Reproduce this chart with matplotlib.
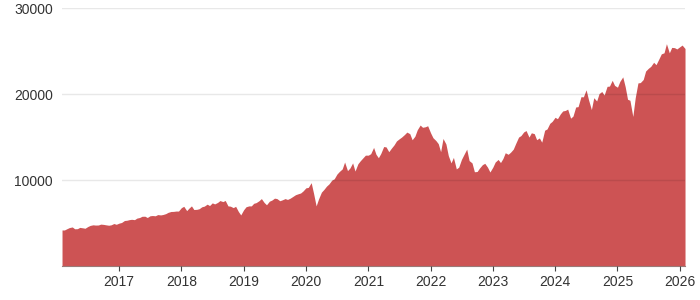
import numpy as np
import pandas as pd
import matplotlib
matplotlib.use("Agg")
import matplotlib.pyplot as plt
import matplotlib.dates as mdates

# semi-monthly readings (1st and 15th of each month), Feb 2016 .. Feb 2026
vals_2016 = [4200, 4200, 4350, 4480, 4550, 4340, 4350, 4500, 4450, 4400, 4600,
             4730, 4800, 4770, 4780, 4880, 4850, 4800, 4750, 4800, 4950, 4860]
vals_2017 = [5000, 5070, 5300, 5330, 5400, 5440, 5400, 5580, 5650, 5790, 5800, 5650,
             5850, 5880, 5850, 5990, 5950, 6000, 6100, 6250, 6350, 6360, 6400, 6400]
vals_2018 = [6800, 6950, 6450, 6750, 7000, 6580, 6600, 6670, 6900, 6970, 7200, 7040,
             7350, 7230, 7400, 7620, 7500, 7630, 7000, 6970, 6800, 6950, 6350, 5950]
vals_2019 = [6550, 6900, 7000, 7000, 7300, 7380, 7600, 7850, 7400, 7130, 7550, 7670,
             7900, 7850, 7600, 7700, 7850, 7750, 7900, 8080, 8300, 8400, 8500, 8730]
vals_2020 = [9100, 9150, 9700, 8460, 7000, 7800, 8600, 8900, 9300, 9550, 10000, 10150,
             10700, 11000, 11300, 12100, 11100, 11400, 12000, 11050, 11900, 12250, 12600, 12900]
vals_2021 = [12900, 13070, 13800, 13000, 12600, 13090, 13900, 13860, 13300, 13680, 14100, 14550,
             14800, 15000, 15300, 15580, 15400, 14690, 15100, 15850, 16400, 16140, 16200, 16320]
vals_2022 = [15500, 14930, 14600, 14240, 13300, 14840, 14200, 12850, 12000, 12640, 11300, 11500,
             12400, 12950, 13600, 12270, 12000, 10970, 11000, 11400, 11800, 11950, 11500, 10940]
vals_2023 = [11500, 12100, 12400, 12040, 12500, 13180, 13000, 13240, 13600, 14250, 15000, 15180,
             15600, 15760, 15000, 15500, 15400, 14700, 14900, 14410, 15800, 15950, 16600, 16830]
vals_2024 = [17300, 17140, 17700, 18040, 18100, 18250, 17200, 17440, 18500, 18540, 19700, 19680,
             20500, 19360, 18200, 19580, 19200, 20060, 20300, 19890, 20900, 20930, 21600, 21010]
vals_2025 = [20800, 21480, 22000, 20880, 19400, 19280, 17400, 19570, 21300, 21340, 21700, 22680,
             23000, 23220, 23700, 23420, 24100, 24680, 24800, 25860, 24800, 25430, 25400, 25250]
vals_2026 = [25500, 25700, 25300]

values = (vals_2016 + vals_2017 + vals_2018 + vals_2019 + vals_2020 + vals_2021 +
          vals_2022 + vals_2023 + vals_2024 + vals_2025 + vals_2026)
dates = pd.date_range(start="2016-02-01", periods=len(values), freq="SMS")

y_ticks = [10000, 20000, 30000]
year_ticks = list(range(2017, 2027))

fig = plt.figure(figsize=(7, 3), dpi=100)
ax = fig.add_axes([0.0886, 0.113, 0.8900, 0.860])

ax.fill_between(dates, values, 0, color="#cd5354", linewidth=0)

ax.set_xlim(dates[0], dates[-1])
ax.set_ylim(0, 30000)

ax.set_yticks(y_ticks)
ax.set_yticklabels([str(t) for t in y_ticks])
ax.set_xticks([pd.Timestamp(f"{y}-01-01") for y in year_ticks])
ax.xaxis.set_major_formatter(mdates.DateFormatter("%Y"))

# grid sits on top of the area
ax.set_axisbelow(False)
ax.grid(axis="y", color="black", alpha=0.09, linewidth=1)

for s in ["top", "right", "left"]:
    ax.spines[s].set_visible(False)
ax.spines["bottom"].set_color("#9a7a78")
ax.spines["bottom"].set_linewidth(0.8)

ax.tick_params(axis="y", length=0, pad=6.5, labelsize=10, labelcolor="#333333")
ax.tick_params(axis="x", length=3.5, width=0.8, color="#444444", pad=3,
               labelsize=10, labelcolor="#333333")
for lab in ax.get_xticklabels() + ax.get_yticklabels():
    lab.set_fontfamily("Liberation Sans")

fig.savefig("out.png", dpi=100)
